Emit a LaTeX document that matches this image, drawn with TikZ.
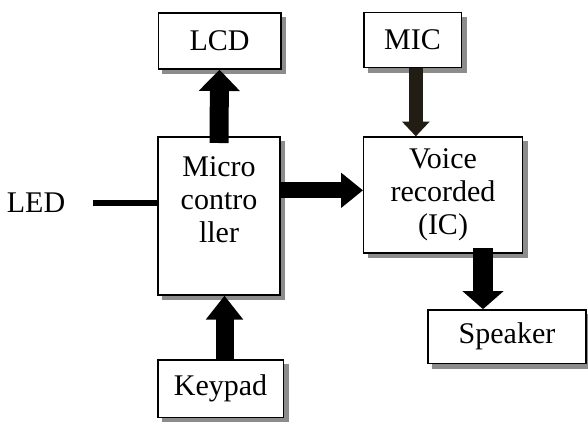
\documentclass[tikz,border=0pt]{standalone}
\usepackage{fontspec}
\setmainfont{Liberation Serif}
\usetikzlibrary{arrows.meta,calc}
\tikzset{
  blk/.style={draw=black, line width=1pt, fill=white, align=center, inner sep=0pt,
    preaction={fill=black!45, draw=black!45, transform canvas={xshift=3.5pt, yshift=-3.5pt}}},
  fat/.style n args={3}{line width=#1, -{Triangle[width=#2, length=#3]}},
}
\definecolor{micbrown}{HTML}{211C14}

\begin{document}
\begin{tikzpicture}[x=0.75pt, y=-0.75pt, font=\fontsize{22.5}{24.75}\selectfont]
		%%%%% START %%%%%
		\useasboundingbox (0, 0) rectangle (588, 421);
		
		\node[blk, minimum width=92pt, minimum height=42pt] (lcd) at (219.5, 41) {LCD};
		\node[blk, minimum width=91.5pt, minimum height=118.5pt] (mcu) at (219, 216) {Micro\\contro\\ller\\\mbox{}};
		\node[blk, minimum width=94pt, minimum height=43pt] (keypad) at (220.5, 388.5) {Keypad};
		
		\node[blk, minimum width=73pt, minimum height=41pt] (mic) at (412.5, 40) {MIC};
		\node[blk, minimum width=119pt, minimum height=87pt] (voice) at (443, 195) {Voice\\recorded\\(IC)};
		\node[blk, minimum width=118.5pt, minimum height=40pt] (speaker) at (507, 336.5) {Speaker};
		
		\node (led) at (36, 203) {LED};
		
		% connectors
		\coordinate (vout) at ($(voice.south)!0.5!(voice.south east)$);
		\draw[line width=4.5pt] ([xshift=17pt]led.east) -- (led.east -| mcu.west);
		\draw[fat={14.25pt}{30pt}{16pt}] ([yshift=-5pt]mcu.north) -- (lcd.south);
		\draw[fat={13.5pt}{27pt}{18pt}] ([xshift=3pt]keypad.north) -- ([xshift=3pt]keypad.north |- mcu.south);
		\draw[fat={12pt}{25.5pt}{16.5pt}] ([yshift=3.5pt]mcu.east |- voice.west) -- ([yshift=3.5pt]voice.west);
		\draw[fat={10.5pt}{20pt}{11pt}, draw=micbrown] ([xshift=2.5pt]mic.south) -- ([xshift=2.5pt]mic.south |- voice.north);
		\draw[fat={15pt}{30pt}{13.5pt}] ([yshift=4pt]vout) -- (vout |- speaker.north);
		
		%%%%% END %%%%%
\end{tikzpicture}
\end{document}
